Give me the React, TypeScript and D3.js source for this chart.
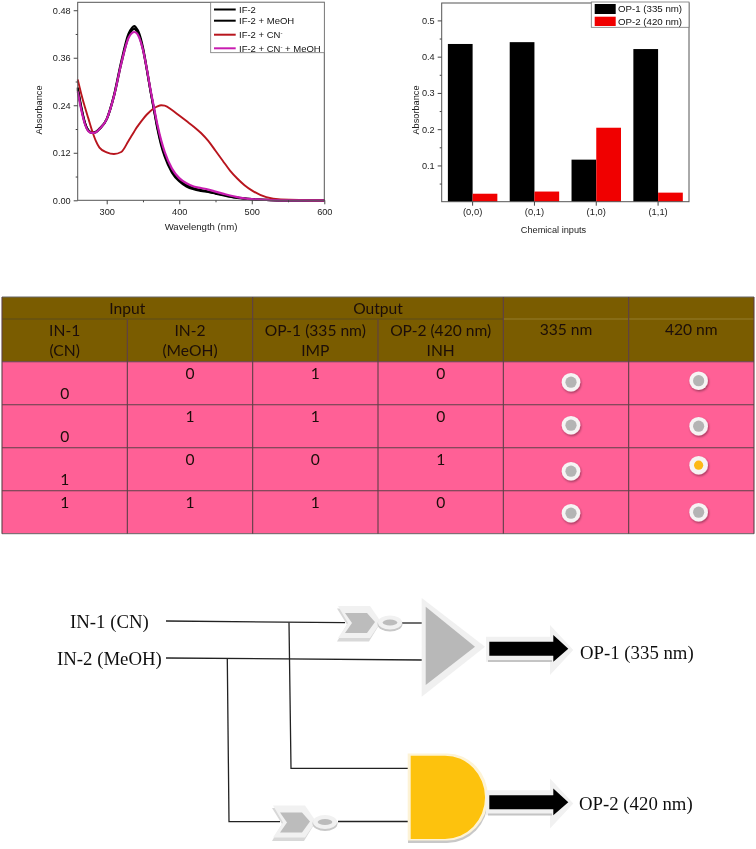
import React, { useEffect, useRef } from "react";
import * as d3 from "d3";

// ---------- Spectra data ----------
const wavelengths = [260,265,270,275,280,285,290,300,310,320,330,335,338,340,345,350,355,360,365,370,375,380,390,400,410,420,430,440,450,460,470,480,490,500,520,540,600];
const if2 = [0.285,0.235,0.195,0.175,0.17,0.172,0.18,0.205,0.265,0.35,0.42,0.436,0.44,0.437,0.42,0.385,0.335,0.28,0.23,0.18,0.14,0.11,0.07,0.048,0.035,0.028,0.024,0.021,0.017,0.013,0.009,0.006,0.004,0.002,0.001,0,0];
const if2MeOH = [0.28,0.232,0.195,0.176,0.171,0.173,0.181,0.205,0.263,0.345,0.413,0.43,0.433,0.431,0.414,0.381,0.333,0.28,0.232,0.184,0.145,0.115,0.074,0.052,0.038,0.03,0.026,0.022,0.018,0.014,0.01,0.007,0.005,0.003,0.001,0,0];
const if2CN = [0.305,0.268,0.235,0.205,0.175,0.15,0.133,0.121,0.117,0.122,0.15,0.165,0.174,0.18,0.193,0.205,0.216,0.225,0.232,0.237,0.24,0.239,0.228,0.214,0.2,0.186,0.17,0.15,0.125,0.1,0.075,0.055,0.038,0.025,0.008,0.002,0];
const if2CNMeOH = [0.275,0.228,0.192,0.174,0.17,0.172,0.18,0.205,0.263,0.345,0.41,0.423,0.425,0.424,0.41,0.38,0.335,0.283,0.236,0.19,0.152,0.122,0.08,0.056,0.043,0.035,0.031,0.027,0.022,0.017,0.012,0.008,0.005,0.003,0.001,0,0];
const spectraNames = ["IF-2", "IF-2 + MeOH", "IF-2 + CN", "IF-2 + CN + MeOH"];
const spectraColors = ["#000000", "#000000", "#b8141f", "#c81fb0"];
const spectraValues = [if2, if2MeOH, if2CN, if2CNMeOH];
const wavelengthMajor = [300, 400, 500, 600];
const wavelengthMinor = [350, 450, 550];
const absMajor = [0, 0.12, 0.24, 0.36, 0.48];
const absMinor = [0.06, 0.18, 0.3, 0.42];

// ---------- Bars data ----------
const inputs = ["(0,0)", "(0,1)", "(1,0)", "(1,1)"];
const op1 = [0.435, 0.44, 0.116, 0.421];
const op2 = [0.022, 0.028, 0.204, 0.025];
const barSeries = ["OP-1 (335 nm)", "OP-2 (420 nm)"];
const barColors = ["#000000", "#f00000"];
const barMajor = [0.1, 0.2, 0.3, 0.4, 0.5];
const barMinor = [0.05, 0.15, 0.25, 0.35, 0.45];

// ---------- Table data ----------
const columns = ["IN-1", "IN-2", "OP-1", "OP-2", "335", "420"];
const subHead1 = ["IN-1", "IN-2", "OP-1 (335 nm)", "OP-2 (420 nm)"];
const subHead2 = ["(CN)", "(MeOH)", "IMP", "INH"];
const rowKeys = ["a", "b", "c", "d"];
const in1 = [0, 0, 1, 1];
const in1AtTop = [false, false, false, true];
const in2 = [0, 1, 0, 1];
const out1 = [1, 1, 0, 1];
const out2 = [0, 0, 1, 0];
const dot335Nudge = [-1, -1, 2, 1];
const dot420Nudge = [-2.5, 0, -4, 0];

const F = "'Liberation Sans', Arial, sans-serif";
const T = "'Liberation Serif', 'Times New Roman', serif";
const L = "Lato, 'Open Sans', sans-serif";

function Axis({ axis, transform, fontSize = 9.2 }: any) {
  const ref = useRef<SVGGElement>(null);
  useEffect(() => {
    const g = d3.select(ref.current!);
    g.call(axis);
    g.selectAll("path").remove();
    g.selectAll("line").attr("stroke", "#444").attr("stroke-width", 1);
    g.selectAll("text").attr("font-family", F).attr("font-size", fontSize).attr("fill", "#222");
  }, []);
  return <g ref={ref} transform={transform} />;
}

function Spectra() {
  const x = d3.scaleLinear().domain([260, 600]).range([77.7, 324.3]);
  const y = d3.scaleLinear().domain([0, 0.5]).range([200.3, 2.3]);
  const line = d3.line<number>().x((_, i) => x(wavelengths[i])).y((d) => y(d)).curve(d3.curveMonotoneX);
  const rows = [9.5, 20.7, 34.7, 48.3];
  const fmt = (d: any) => d3.format(".2f")(d);
  return (
    <g>
      {spectraValues.map((v, i) => (
        <path key={i} d={line(v)!} fill="none" stroke={spectraColors[i]} strokeWidth={i === 2 ? 1.9 : 2.2} />
      ))}
      <rect x={77.7} y={2.3} width={246.6} height={198} fill="none" stroke="#555" strokeWidth={1} />
      <Axis transform="translate(0,200.3)" axis={d3.axisBottom(x).tickValues(wavelengthMajor).tickSize(4).tickPadding(4)} />
      <Axis transform="translate(0,200.3)" axis={d3.axisBottom(x).tickValues(wavelengthMinor).tickSize(2).tickFormat(() => "")} />
      <Axis transform="translate(77.7,0)" axis={d3.axisLeft(y).tickValues(absMajor).tickSize(4).tickPadding(3).tickFormat(fmt)} />
      <Axis transform="translate(77.7,0)" axis={d3.axisLeft(y).tickValues(absMinor).tickSize(2).tickFormat(() => "")} />
      <text x={201} y={229.5} textAnchor="middle" fontFamily={F} fontSize={9.6} fill="#222">Wavelength (nm)</text>
      <text transform="translate(42,110) rotate(-90)" textAnchor="middle" fontFamily={F} fontSize={9.2} fill="#222">Absorbance</text>
      <rect x={210.7} y={2.3} width={113.6} height={50.4} fill="#fff" stroke="#777" strokeWidth={0.8} />
      {spectraNames.map((n, i) => (
        <g key={n}>
          <line x1={214} x2={235.7} y1={rows[i]} y2={rows[i]} stroke={spectraColors[i]} strokeWidth={2} />
          <text x={239} y={rows[i] + 3.3} fontFamily={F} fontSize={9.5} fill="#111">
            {i < 2 ? n : "IF-2 + CN"}
            {i >= 2 && <tspan dy={-3} fontSize={6}>-</tspan>}
            {i === 3 && <tspan dy={3}> + MeOH</tspan>}
          </text>
        </g>
      ))}
    </g>
  );
}

function Bars() {
  const x = d3.scaleBand<string>().domain(inputs).range([441.7, 689]).paddingInner(0.2).paddingOuter(0.1);
  const y = d3.scaleLinear().domain([0, 0.548]).range([201.7, 3]);
  const inner = d3.scaleBand<string>().domain(barSeries).range([0, x.bandwidth()]);
  const vals = [op1, op2];
  const rows = [[4, 10], [16.7, 9.3]];
  return (
    <g>
      {vals.map((v, s) =>
        v.map((d, i) => (
          <rect key={s + "-" + i} x={x(inputs[i])! + inner(barSeries[s])!} y={y(d)} width={inner.bandwidth()} height={y(0) - y(d)} fill={barColors[s]} />
        ))
      )}
      <rect x={441.7} y={3} width={247.3} height={198.7} fill="none" stroke="#555" strokeWidth={1} />
      <Axis transform="translate(0,201.7)" axis={d3.axisBottom(x).tickSize(4).tickPadding(3)} fontSize={9.4} />
      <Axis transform="translate(441.7,0)" axis={d3.axisLeft(y).tickValues(barMajor).tickSize(4).tickPadding(3).tickFormat(d3.format(".1f"))} />
      <Axis transform="translate(441.7,0)" axis={d3.axisLeft(y).tickValues(barMinor).tickSize(2).tickFormat(() => "")} />
      <text x={553.5} y={232.5} textAnchor="middle" fontFamily={F} fontSize={9.2} fill="#222">Chemical inputs</text>
      <text transform="translate(418.5,110) rotate(-90)" textAnchor="middle" fontFamily={F} fontSize={9.2} fill="#222">Absorbance</text>
      <rect x={591.3} y={2} width={97.7} height={25.3} fill="#fff" stroke="#777" strokeWidth={0.8} />
      {barSeries.map((n, i) => (
        <g key={n}>
          <rect x={594.7} y={rows[i][0]} width={21} height={rows[i][1]} fill={barColors[i]} />
          <text x={618} y={rows[i][0] + rows[i][1] / 2 + 3.3} fontFamily={F} fontSize={9.7} fill="#111">{n}</text>
        </g>
      ))}
    </g>
  );
}

function Table() {
  const cx = d3.scaleBand<string>().domain(columns).range([2, 754]);
  const ry = d3.scaleBand<string>().domain(rowKeys).range([361.7, 533.7]);
  const head = "#7a5c00", pink = "#ff6096", grid = "#5e4048";
  const c = (k: string) => cx(k)! + cx.bandwidth() / 2;
  const w = cx.bandwidth();
  const tp = { fontFamily: L, fontSize: 15.6, fill: "#1c0f08", textAnchor: "middle" as const };
  return (
    <g>
      <defs>
        <filter id="ds" x="-40%" y="-40%" width="180%" height="180%">
          <feDropShadow dx="0.8" dy="1.4" stdDeviation="0.8" floodColor="#000" floodOpacity="0.4" />
        </filter>
      </defs>
      <rect x={2} y={297} width={752} height={64.7} fill={head} />
      <rect x={2} y={361.7} width={752} height={172} fill={pink} />
      <line x1={503} x2={754} y1={319} y2={319} stroke="#a08a40" strokeWidth={0.7} />
      <line x1={2} x2={503} y1={319} y2={319} stroke="#5a4a20" strokeWidth={1} />
      {rowKeys.map((k) => <line key={k} x1={2} x2={754} y1={ry(k)!} y2={ry(k)!} stroke={grid} strokeWidth={1.1} />)}
      <line x1={2} x2={754} y1={297} y2={297} stroke="#666" />
      <line x1={2} x2={754} y1={533.7} y2={533.7} stroke="#666" />
      {[0, 1, 2, 3, 4, 5, 6].map((i) => {
        const px = 2 + w * i;
        const top = i === 1 || i === 3 ? 319 : 297;
        return <line key={i} x1={px} x2={px} y1={top} y2={533.7} stroke={grid} strokeWidth={1.1} />;
      })}
      <text {...tp} x={2 + w} y={314}>Input</text>
      <text {...tp} x={2 + w * 3} y={314}>Output</text>
      {subHead1.map((s, i) => <text key={s} {...tp} x={c(columns[i])} y={335.5}>{s}</text>)}
      {subHead2.map((s, i) => <text key={s} {...tp} x={c(columns[i])} y={356}>{s}</text>)}
      <text {...tp} x={c("335")} y={335}>335 nm</text>
      <text {...tp} x={c("420")} y={335}>420 nm</text>
      {rowKeys.map((k, i) => {
        const top = ry(k)! + 17;
        const low = ry(k)! + 37.5;
        return (
          <g key={k}>
            <text {...tp} x={c("IN-1")} y={in1AtTop[i] ? top : low}>{in1[i]}</text>
            <text {...tp} x={c("IN-2")} y={top}>{in2[i]}</text>
            <text {...tp} x={c("OP-1")} y={top}>{out1[i]}</text>
            <text {...tp} x={c("OP-2")} y={top}>{out2[i]}</text>
            <circle cx={c("335") + 5} cy={ry(k)! + ry.bandwidth() / 2 + dot335Nudge[i]} r={9.3} fill="#f6f4f4" filter="url(#ds)" />
            <circle cx={c("335") + 5} cy={ry(k)! + ry.bandwidth() / 2 + dot335Nudge[i]} r={5.6} fill="#b4b4b4" />
            <circle cx={c("420") + 7.3} cy={ry(k)! + ry.bandwidth() / 2 + dot420Nudge[i]} r={9.3} fill="#f6f4f4" filter="url(#ds)" />
            <circle cx={c("420") + 7.3} cy={ry(k)! + ry.bandwidth() / 2 + dot420Nudge[i]} r={out2[i] ? 4.6 : 5.6} fill={out2[i] ? "#fdb913" : "#b4b4b4"} />
          </g>
        );
      })}
    </g>
  );
}

function NotGate({ dx, dy }: { dx: number; dy: number }) {
  return (
    <g transform={`translate(${dx},${dy})`}>
      <path d="M337,607H369L380,622L369,640H337L347,623Z" fill="#d8d8d8" transform="translate(0,1.5)" />
      <path d="M338,606H370L381,622L370,638H338L348,623Z" fill="#f1f1f1" />
      <path d="M345,613H367L375,622L367,633H345L352,623Z" fill="#bcbcbc" />
      <ellipse cx={390} cy={624} rx={12.5} ry={7.5} fill="#c8c8c8" />
      <ellipse cx={390} cy={622.5} rx={12} ry={7} fill="#f1f1f1" />
      <ellipse cx={390} cy={622.5} rx={7.3} ry={3} fill="#bcbcbc" />
    </g>
  );
}

function Arrow({ dy }: { dy: number }) {
  return (
    <g transform={`translate(0,${dy})`}>
      <path d="M486,636.7H550V625L573.3,650L550,675V661.7H486Z" fill="#f1f1f1" />
      <path d="M488,660H552V662H488Z" fill="#c4c4c4" />
      <path d="M489.3,641.7H553.3V635L568.3,648.7L553.3,661.7V655.7H489.3Z" fill="#000" />
    </g>
  );
}

function Logic() {
  const w = { stroke: "#222", strokeWidth: 1.3, fill: "none" };
  const t = { fontFamily: T, fontSize: 18.8, fill: "#111" };
  return (
    <g>
      <path {...w} d="M166,621L345,622.7" />
      <path {...w} d="M289,622.5L291,768.3H408" />
      <path {...w} d="M166,658L423,660" />
      <path {...w} d="M227.3,659L229,821.7H280" />
      <path {...w} d="M338,821.5H408" />
      <path {...w} d="M402,623H424" />
      <NotGate dx={0} dy={0} />
      <NotGate dx={-65} dy={199.5} />
      <path d="M421.7,598L485,646.7L421.7,696.7Z" fill="#f0f0f0" />
      <path d="M425.7,606.7L475,646.7L425.7,685Z" fill="#b8b8b8" />
      <path d="M408,757H447A41,43 0 0 1 447,843H408Z" fill="#c8c8c8" />
      <path d="M407.7,753.5H447A41,43.5 0 0 1 447,840.5H407.7Z" fill="#fdf3d6" />
      <path d="M410.7,755.7H445A40,41.6 0 0 1 445,839H410.7Z" fill="#fdc20a" />
      <Arrow dy={0} />
      <Arrow dy={153.5} />
      <text {...t} x={70} y={628}>IN-1 (CN)</text>
      <text {...t} x={57} y={665}>IN-2 (MeOH)</text>
      <text {...t} x={580} y={659}>OP-1 (335 nm)</text>
      <text {...t} x={579} y={810}>OP-2 (420 nm)</text>
    </g>
  );
}

export default function App() {
  return (
    <svg width={756} height={849} viewBox="0 0 756 849" style={{ position: "absolute", left: 0, top: 0, display: "block", background: "#fff" }}>
      <defs>
        <filter id="soft" x="0" y="0" width="100%" height="100%">
          <feGaussianBlur stdDeviation="0.3" />
        </filter>
      </defs>
      <g filter="url(#soft)">
        <rect width={756} height={849} fill="#fff" />
        <Spectra />
        <Bars />
        <Table />
        <Logic />
      </g>
    </svg>
  );
}
